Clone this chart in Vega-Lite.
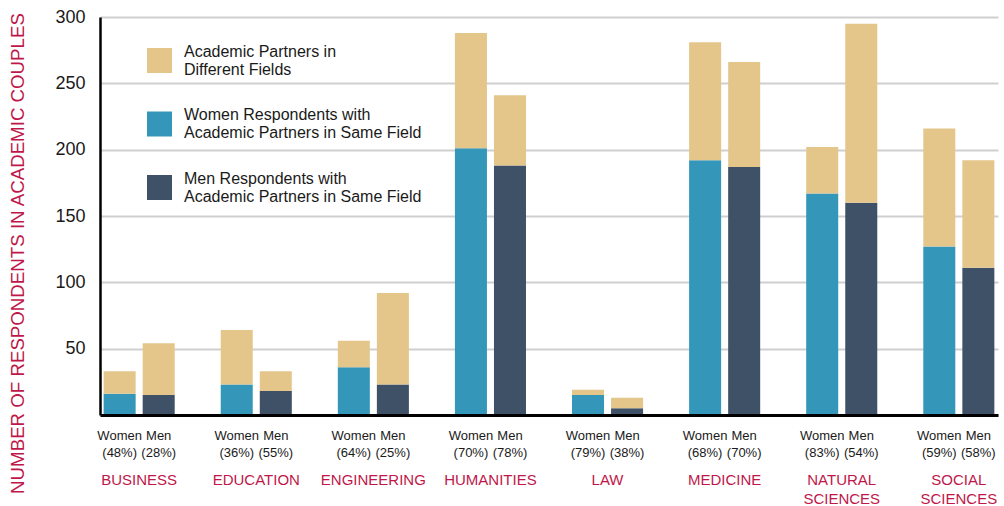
{
  "$schema": "https://vega.github.io/schema/vega-lite/v6.json",
  "autosize": {"type": "none"},
  "width": 898,
  "height": 398,
  "padding": {"left": 100, "top": 17, "right": 6, "bottom": 91},
  "background": "#ffffff",
  "config": {
    "view": {"stroke": null},
    "font": "Liberation Sans",
    "text": {"font": "Liberation Sans"}
  },
  "datasets": {
    "segments": [
      {"field": "BUSINESS", "gender": "Women", "partner": "Same field", "segment": "Women Respondents with Academic Partners in Same Field", "count": 16},
      {"field": "BUSINESS", "gender": "Women", "partner": "Different fields", "segment": "Academic Partners in Different Fields", "count": 17},
      {"field": "BUSINESS", "gender": "Men", "partner": "Same field", "segment": "Men Respondents with Academic Partners in Same Field", "count": 15},
      {"field": "BUSINESS", "gender": "Men", "partner": "Different fields", "segment": "Academic Partners in Different Fields", "count": 39},
      {"field": "EDUCATION", "gender": "Women", "partner": "Same field", "segment": "Women Respondents with Academic Partners in Same Field", "count": 23},
      {"field": "EDUCATION", "gender": "Women", "partner": "Different fields", "segment": "Academic Partners in Different Fields", "count": 41},
      {"field": "EDUCATION", "gender": "Men", "partner": "Same field", "segment": "Men Respondents with Academic Partners in Same Field", "count": 18},
      {"field": "EDUCATION", "gender": "Men", "partner": "Different fields", "segment": "Academic Partners in Different Fields", "count": 15},
      {"field": "ENGINEERING", "gender": "Women", "partner": "Same field", "segment": "Women Respondents with Academic Partners in Same Field", "count": 36},
      {"field": "ENGINEERING", "gender": "Women", "partner": "Different fields", "segment": "Academic Partners in Different Fields", "count": 20},
      {"field": "ENGINEERING", "gender": "Men", "partner": "Same field", "segment": "Men Respondents with Academic Partners in Same Field", "count": 23},
      {"field": "ENGINEERING", "gender": "Men", "partner": "Different fields", "segment": "Academic Partners in Different Fields", "count": 69},
      {"field": "HUMANITIES", "gender": "Women", "partner": "Same field", "segment": "Women Respondents with Academic Partners in Same Field", "count": 201},
      {"field": "HUMANITIES", "gender": "Women", "partner": "Different fields", "segment": "Academic Partners in Different Fields", "count": 87},
      {"field": "HUMANITIES", "gender": "Men", "partner": "Same field", "segment": "Men Respondents with Academic Partners in Same Field", "count": 188},
      {"field": "HUMANITIES", "gender": "Men", "partner": "Different fields", "segment": "Academic Partners in Different Fields", "count": 53},
      {"field": "LAW", "gender": "Women", "partner": "Same field", "segment": "Women Respondents with Academic Partners in Same Field", "count": 15},
      {"field": "LAW", "gender": "Women", "partner": "Different fields", "segment": "Academic Partners in Different Fields", "count": 4},
      {"field": "LAW", "gender": "Men", "partner": "Same field", "segment": "Men Respondents with Academic Partners in Same Field", "count": 5},
      {"field": "LAW", "gender": "Men", "partner": "Different fields", "segment": "Academic Partners in Different Fields", "count": 8},
      {"field": "MEDICINE", "gender": "Women", "partner": "Same field", "segment": "Women Respondents with Academic Partners in Same Field", "count": 192},
      {"field": "MEDICINE", "gender": "Women", "partner": "Different fields", "segment": "Academic Partners in Different Fields", "count": 89},
      {"field": "MEDICINE", "gender": "Men", "partner": "Same field", "segment": "Men Respondents with Academic Partners in Same Field", "count": 187},
      {"field": "MEDICINE", "gender": "Men", "partner": "Different fields", "segment": "Academic Partners in Different Fields", "count": 79},
      {"field": "NATURAL SCIENCES", "gender": "Women", "partner": "Same field", "segment": "Women Respondents with Academic Partners in Same Field", "count": 167},
      {"field": "NATURAL SCIENCES", "gender": "Women", "partner": "Different fields", "segment": "Academic Partners in Different Fields", "count": 35},
      {"field": "NATURAL SCIENCES", "gender": "Men", "partner": "Same field", "segment": "Men Respondents with Academic Partners in Same Field", "count": 160},
      {"field": "NATURAL SCIENCES", "gender": "Men", "partner": "Different fields", "segment": "Academic Partners in Different Fields", "count": 135},
      {"field": "SOCIAL SCIENCES", "gender": "Women", "partner": "Same field", "segment": "Women Respondents with Academic Partners in Same Field", "count": 127},
      {"field": "SOCIAL SCIENCES", "gender": "Women", "partner": "Different fields", "segment": "Academic Partners in Different Fields", "count": 89},
      {"field": "SOCIAL SCIENCES", "gender": "Men", "partner": "Same field", "segment": "Men Respondents with Academic Partners in Same Field", "count": 111},
      {"field": "SOCIAL SCIENCES", "gender": "Men", "partner": "Different fields", "segment": "Academic Partners in Different Fields", "count": 81}
    ],
    "bars": [
      {"field": "BUSINESS", "gender": "Women", "share": "(48%)"},
      {"field": "BUSINESS", "gender": "Men", "share": "(28%)"},
      {"field": "EDUCATION", "gender": "Women", "share": "(36%)"},
      {"field": "EDUCATION", "gender": "Men", "share": "(55%)"},
      {"field": "ENGINEERING", "gender": "Women", "share": "(64%)"},
      {"field": "ENGINEERING", "gender": "Men", "share": "(25%)"},
      {"field": "HUMANITIES", "gender": "Women", "share": "(70%)"},
      {"field": "HUMANITIES", "gender": "Men", "share": "(78%)"},
      {"field": "LAW", "gender": "Women", "share": "(79%)"},
      {"field": "LAW", "gender": "Men", "share": "(38%)"},
      {"field": "MEDICINE", "gender": "Women", "share": "(68%)"},
      {"field": "MEDICINE", "gender": "Men", "share": "(70%)"},
      {"field": "NATURAL SCIENCES", "gender": "Women", "share": "(83%)"},
      {"field": "NATURAL SCIENCES", "gender": "Men", "share": "(54%)"},
      {"field": "SOCIAL SCIENCES", "gender": "Women", "share": "(59%)"},
      {"field": "SOCIAL SCIENCES", "gender": "Men", "share": "(58%)"}
    ]
  },
  "encoding": {
    "x": {
      "field": "field",
      "type": "nominal",
      "sort": null,
      "scale": {"paddingInner": 0.393, "paddingOuter": 0.031},
      "axis": {
        "title": null,
        "domainColor": "#000000",
        "domainWidth": 3,
        "ticks": false,
        "labelAngle": 0,
        "labelPadding": 57,
        "labelBaseline": "top",
        "labelFont": "Liberation Sans",
        "labelFontSize": 15,
        "labelColor": "#C0174A",
        "labelLineHeight": 19,
        "labelExpr": "split(datum.label, ' ')",
        "zindex": 1
      }
    },
    "xOffset": {
      "field": "gender",
      "type": "nominal",
      "sort": ["Women", "Men"],
      "scale": {"paddingInner": 0.18, "paddingOuter": 0}
    }
  },
  "layer": [
    {
      "data": {"name": "segments"},
      "mark": {"type": "bar"},
      "encoding": {
        "y": {
          "field": "count",
          "type": "quantitative",
          "stack": "zero",
          "scale": {"domain": [0, 300], "nice": false},
          "axis": {
            "title": "NUMBER OF RESPONDENTS IN ACADEMIC COUPLES",
            "titleColor": "#C0174A",
            "titleFont": "Liberation Sans",
            "titleFontSize": 18.7,
            "titleFontWeight": "normal",
            "titleAngle": -90,
            "titleX": -83,
            "titleY": 236,
            "titleAlign": "center",
            "titleBaseline": "middle",
            "values": [0, 50, 100, 150, 200, 250, 300],
            "labelExpr": "datum.value == 0 ? '' : datum.label",
            "labelFont": "Liberation Sans",
            "labelFontSize": 18,
            "labelColor": "#1a1a1a",
            "labelPadding": 15,
            "ticks": false,
            "domainColor": "#000000",
            "domainWidth": 2.5,
            "grid": true,
            "gridColor": "#cfcfcf",
            "gridWidth": 2
          }
        },
        "color": {
          "field": "segment",
          "type": "nominal",
          "scale": {
            "domain": [
              "Academic Partners in Different Fields",
              "Women Respondents with Academic Partners in Same Field",
              "Men Respondents with Academic Partners in Same Field"
            ],
            "range": ["#E4C68B", "#3497BA", "#3E5167"]
          },
          "legend": {
            "title": null,
            "orient": "none",
            "legendX": 47,
            "legendY": 31,
            "padding": 0,
            "symbolType": "square",
            "symbolSize": 625,
            "symbolStrokeWidth": 0,
            "labelFont": "Liberation Sans",
            "labelFontSize": 16,
            "labelColor": "#1a1a1a",
            "labelLineHeight": 19,
            "labelBaseline": "line-bottom",
            "labelLimit": 500,
            "labelOffset": 12,
            "rowPadding": 28.5,
            "labelExpr": "split(replace(replace(datum.label, ' with ', ' with|'), ' in Different', ' in|Different'), '|')"
          }
        },
        "order": {"field": "partner", "sort": "descending"}
      }
    },
    {
      "data": {"name": "bars"},
      "mark": {"type": "text", "baseline": "middle", "align": "center", "dy": 21, "fontSize": 13, "color": "#1a1a1a", "font": "Liberation Sans"},
      "encoding": {
        "y": {"datum": 0, "type": "quantitative"},
        "text": {"field": "gender"}
      }
    },
    {
      "data": {"name": "bars"},
      "mark": {"type": "text", "baseline": "middle", "align": "center", "dy": 38, "fontSize": 13, "color": "#1a1a1a", "font": "Liberation Sans"},
      "encoding": {
        "y": {"datum": 0, "type": "quantitative"},
        "text": {"field": "share"}
      }
    }
  ]
}
